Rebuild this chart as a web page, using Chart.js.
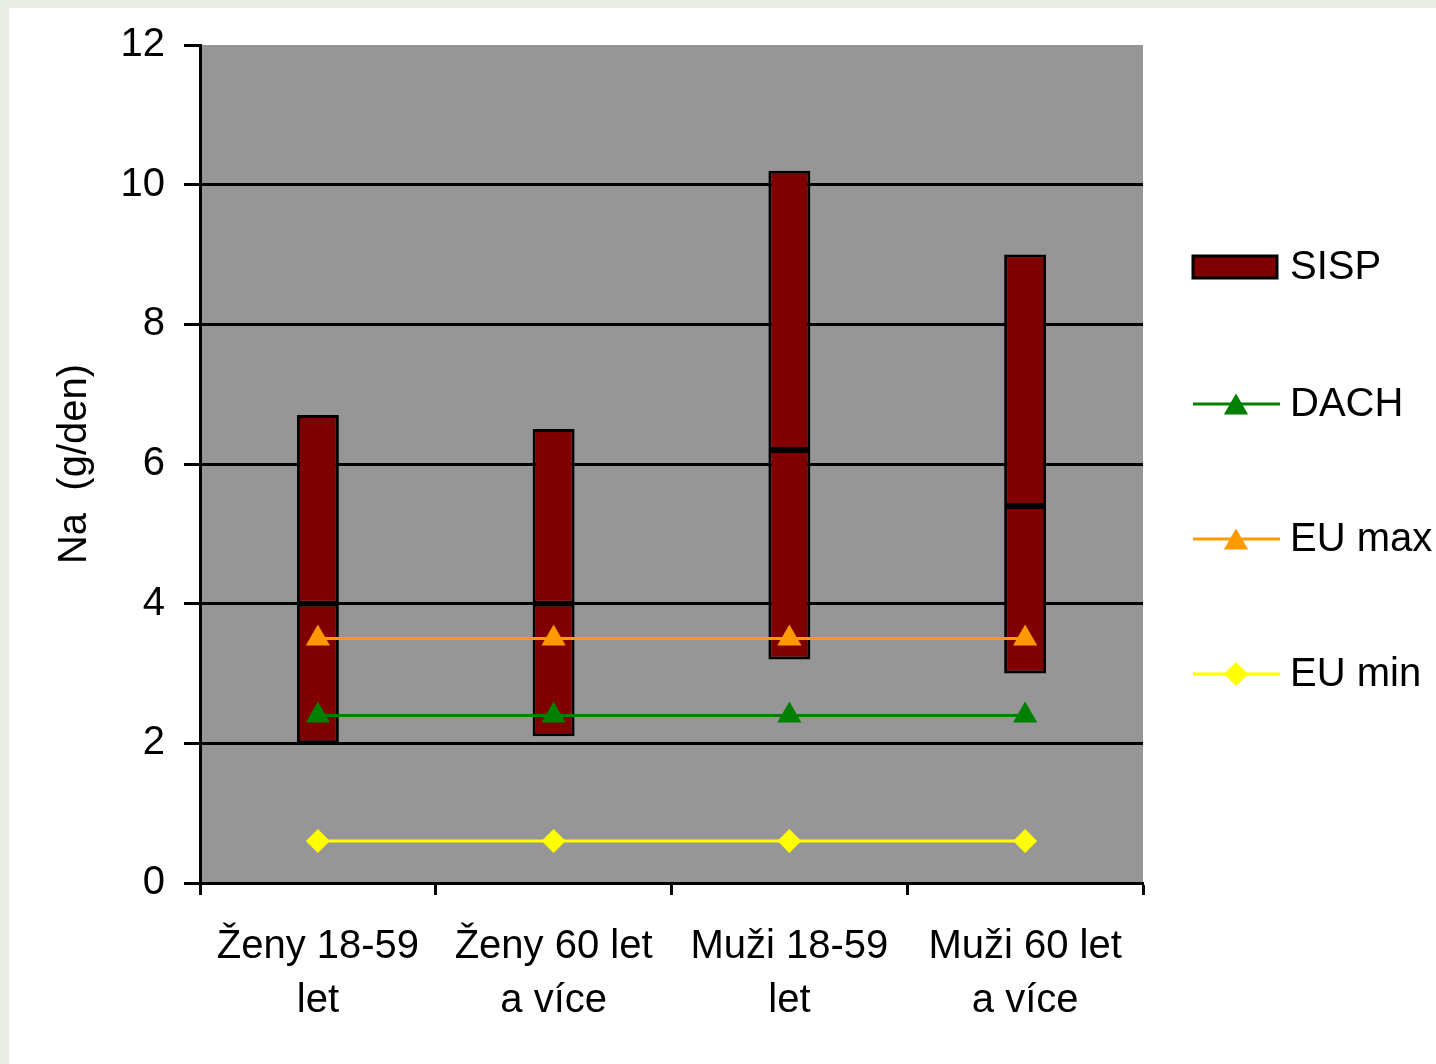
<!DOCTYPE html>
<html>
<head>
<meta charset="utf-8">
<script src="https://cdn.jsdelivr.net/npm/chart.js@4.4.1/dist/chart.umd.min.js"></script>
<style>
    body { margin: 0; background: #e8eee4; }
    #wrap { width: 1436px; height: 1064px; position: relative; }
</style>
</head>
<body>
<div id="wrap"><canvas id="chart" width="1436" height="1064"></canvas></div>
<script>
// Данные графика
const groups = [['Ženy 18-59', 'let'], ['Ženy 60 let', 'a více'], ['Muži 18-59', 'let'], ['Muži 60 let', 'a více']];
const sispMin = [2.0, 2.1, 3.2, 3.0];
const sispMedian = [4.0, 4.0, 6.2, 5.4];
const sispMax = [6.7, 6.5, 10.2, 9.0];
const dach = [2.4, 2.4, 2.4, 2.4];
const euMax = [3.5, 3.5, 3.5, 3.5];
const euMin = [0.6, 0.6, 0.6, 0.6];
const yTicks = [0, 2, 4, 6, 8, 10, 12];

const FONT = 'Liberation Sans, Arial, sans-serif';
const BAR_COLOR = '#800000';

// Фон страницы и области построения
const backgroundPlugin = {
    id: 'bg',
    beforeDraw(chart) {
        const { ctx, chartArea: a } = chart;
        ctx.save();
        ctx.fillStyle = '#e8eee4';
        ctx.fillRect(0, 0, chart.width, chart.height);
        ctx.fillStyle = '#ffffff';
        ctx.fillRect(9, 8, chart.width - 9, chart.height - 8);
        ctx.fillStyle = '#969696';
        ctx.fillRect(a.left, a.top, a.right - a.left, a.bottom - a.top);
        ctx.restore();
    }
};

// Легенда справа (линия + маркер)
const legendPlugin = {
    id: 'sideLegend',
    afterDraw(chart) {
        const { ctx } = chart;
        const items = [
            { ds: 1, y: 267 },
            { ds: 2, y: 404 },
            { ds: 3, y: 539 },
            { ds: 4, y: 674 }
        ];
        ctx.save();
        items.forEach(it => {
            const ds = chart.data.datasets[it.ds];
            if (ds.type === 'bar') {
                ctx.fillStyle = ds.backgroundColor;
                ctx.strokeStyle = '#000';
                ctx.lineWidth = 3;
                ctx.fillRect(1193, it.y - 11, 84, 22);
                ctx.strokeRect(1193, it.y - 11, 84, 22);
            } else {
                ctx.strokeStyle = ds.borderColor;
                ctx.lineWidth = ds.borderWidth;
                ctx.beginPath();
                ctx.moveTo(1193, it.y);
                ctx.lineTo(1280, it.y);
                ctx.stroke();
                ctx.fillStyle = ds.pointBackgroundColor;
                const dy = ds.pointStyle === 'triangle' ? ds.pointRadius * 0.25 : 0;
                Chart.helpers.drawPoint(ctx, {
                    pointStyle: ds.pointStyle,
                    radius: ds.pointRadius,
                    borderWidth: 0,
                    rotation: 0
                }, 1236, it.y + dy);
            }
            ctx.fillStyle = '#000';
            ctx.font = '40px ' + FONT;
            ctx.textBaseline = 'middle';
            ctx.textAlign = 'left';
            ctx.fillText(ds.label, 1290, it.y + 1);
        });
        ctx.restore();
    }
};

const barCommon = {
    type: 'bar',
    backgroundColor: BAR_COLOR,
    borderColor: '#000',
    borderWidth: 3,
    borderSkipped: false,
    grouped: false,
    categoryPercentage: 1,
    barPercentage: 0.178,
    order: 2
};

const lineCommon = {
    type: 'line',
    borderWidth: 3,
    pointBorderWidth: 0,
    order: 1
};

new Chart(document.getElementById('chart').getContext('2d'), {
    type: 'bar',
    data: {
        labels: groups,
        datasets: [
            Object.assign({}, barCommon, {
                label: 'SISP',
                data: sispMin.map((v, i) => [v, sispMedian[i]])
            }),
            Object.assign({}, barCommon, {
                label: 'SISP',
                data: sispMedian.map((v, i) => [v, sispMax[i]])
            }),
            Object.assign({}, lineCommon, {
                label: 'DACH',
                data: dach,
                borderColor: '#008000',
                pointStyle: 'triangle',
                pointRadius: 14,
                pointBackgroundColor: '#008000'
            }),
            Object.assign({}, lineCommon, {
                label: 'EU max',
                data: euMax,
                borderColor: '#ff9900',
                pointStyle: 'triangle',
                pointRadius: 14,
                pointBackgroundColor: '#ff9900'
            }),
            Object.assign({}, lineCommon, {
                label: 'EU min',
                data: euMin,
                borderColor: '#ffff00',
                pointStyle: 'rectRot',
                pointRadius: 12,
                pointBackgroundColor: '#ffff00'
            })
        ]
    },
    options: {
        responsive: false,
        animation: false,
        layout: { padding: { top: 45, right: 293, bottom: 0, left: 0 } },
        plugins: {
            legend: { display: false },
            tooltip: { enabled: false }
        },
        scales: {
            x: {
                offset: true,
                grid: {
                    offset: true,
                    drawOnChartArea: false,
                    drawTicks: true,
                    tickLength: 12,
                    tickColor: '#000',
                    tickWidth: 3
                },
                border: { color: '#000', width: 3 },
                ticks: {
                    color: '#000',
                    padding: 25,
                    maxRotation: 0,
                    autoSkip: false,
                    font: { family: FONT, size: 40, lineHeight: 1.35 }
                },
                afterFit(scale) { scale.height = 181; }
            },
            y: {
                min: 0,
                max: 12,
                afterBuildTicks(scale) { scale.ticks = yTicks.map(v => ({ value: v })); },
                grid: {
                    color: c => (c.tick && c.tick.value === 12) ? 'rgba(0,0,0,0)' : '#000',
                    lineWidth: 3,
                    tickLength: 16,
                    tickColor: '#000',
                    tickWidth: 3
                },
                border: { color: '#000', width: 3 },
                ticks: {
                    color: '#000',
                    padding: 19,
                    font: { family: FONT, size: 40 }
                },
                title: {
                    display: true,
                    text: 'Na  (g/den)',
                    color: '#000',
                    padding: { top: 51, bottom: 0 },
                    font: { family: FONT, size: 40, lineHeight: 1.2 }
                },
                afterFit(scale) { scale.width = 200; }
            }
        }
    },
    plugins: [backgroundPlugin, legendPlugin]
});
</script>
</body>
</html>
